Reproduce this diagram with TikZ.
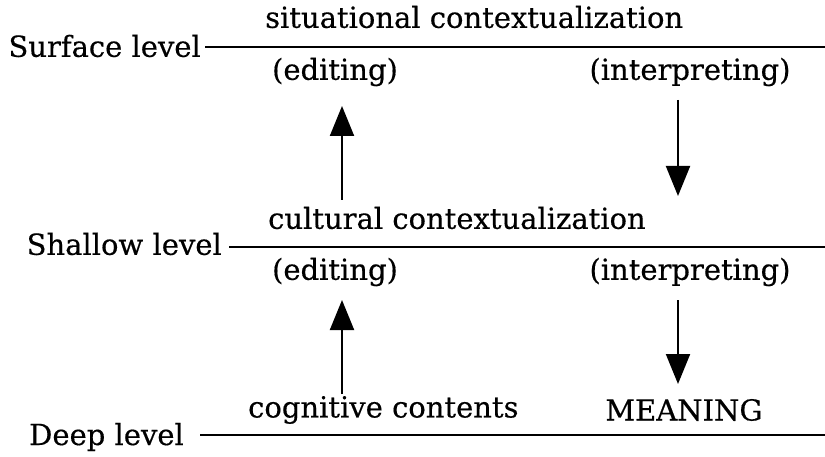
\documentclass[tikz,border=0pt]{standalone}
\usepackage{fontspec}
\newfontfamily\diafont{DejaVu Serif}[FakeBold=0.4]
\usetikzlibrary{arrows.meta}
\begin{document}
\begin{tikzpicture}[x=1pt,y=-1pt,
  lbl/.style={inner sep=0pt,font=\diafont\fontsize{29}{32}\selectfont},
  lvl/.style={line width=2.2pt},
  flow/.style={line width=2pt,-{Triangle[width=24pt,length=30pt]}}]
\useasboundingbox[fill=white] (0,0) rectangle (825,457);
% level labels
\node[lbl,anchor=east] (surf) at (201,46) {Surface level};
\node[lbl,anchor=east] (shal) at (222,244) {Shallow level};
\node[lbl,anchor=east] (deep) at (184,437) {Deep level};
% level lines
\coordinate (surfR) at (825,47);
\coordinate (shalR) at (825,247);
\coordinate (deepR) at (825,435);
\coordinate (surfL) at (205,47);
\coordinate (shalL) at (229,247);
\coordinate (deepL) at (200,435);
\draw[lvl] (surfL) -- (surfR);
\draw[lvl] (shalL) -- (shalR);
\draw[lvl] (deepL) -- (deepR);
% texts
\node[lbl,anchor=west] (sit) at (265,17) {situational contextualization};
\node[lbl] (ed1) at (335,72) {(editing)};
\node[lbl] (in1) at (690,72) {(interpreting)};
\node[lbl,anchor=west] (cul) at (268,218) {cultural contextualization};
\node[lbl] (ed2) at (335,272) {(editing)};
\node[lbl] (in2) at (690,272) {(interpreting)};
\node[lbl,anchor=west] (cog) at (248,410) {cognitive contents};
\node[lbl] (mean) at (684,410) {MEANING};
% arrows
\coordinate (a1s) at (342,200);
\coordinate (a1e) at (342,106);
\coordinate (b1s) at (678,100);
\coordinate (b1e) at (678,196);
\coordinate (a2s) at (342,394);
\coordinate (a2e) at (342,300);
\coordinate (b2s) at (678,300);
\coordinate (b2e) at (678,384);
\draw[flow] (a1s) -- (a1e);
\draw[flow] (b1s) -- (b1e);
\draw[flow] (a2s) -- (a2e);
\draw[flow] (b2s) -- (b2e);
\end{tikzpicture}
\end{document}
